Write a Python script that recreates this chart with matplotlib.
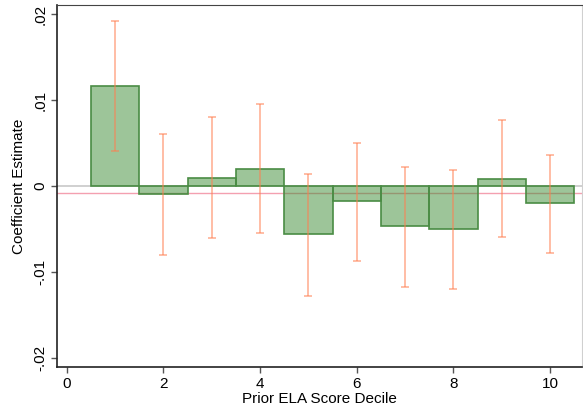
import numpy as np
import matplotlib.pyplot as plt

plt.rcParams['font.family'] = ['Liberation Sans', 'DejaVu Sans']

# coefficient by prior ELA decile, with 95% CI bounds
decile = [1, 2, 3, 4, 5, 6, 7, 8, 9, 10]
coef = [0.0116, -0.0009, 0.0009, 0.0020, -0.0056, -0.0018, -0.0047, -0.0050, 0.0008, -0.0020]
ci_lo = [0.0041, -0.0080, -0.0061, -0.0055, -0.0128, -0.0088, -0.0118, -0.0120, -0.0060, -0.0078]
ci_hi = [0.0192, 0.0061, 0.0081, 0.0096, 0.0014, 0.0050, 0.0022, 0.0019, 0.0077, 0.0036]
ref_line = -0.0008

fig = plt.figure(figsize=(5.83, 4.11), dpi=100)
ax = fig.add_axes([57/583, 44/411, 525/583, 362/411])

ax.axhline(0, color='#c8c8c8', lw=1.2, zorder=1)
ax.axhline(ref_line, color='#f4a0b0', lw=1.0, zorder=1)

ax.bar(decile, coef, width=1.0, color='#3c8c34', alpha=0.5, zorder=2)
ax.bar(decile, coef, width=1.0, fill=False, edgecolor='#4a8c44', lw=1.2, zorder=3)

err = np.array([np.array(coef) - np.array(ci_lo), np.array(ci_hi) - np.array(coef)])
ax.errorbar(decile, coef, yerr=err, fmt='none', ecolor='#ff7f50', alpha=0.6,
            elinewidth=1.2, capsize=3, capthick=1.2, zorder=4)

ax.set_xlim(-0.2, 10.66)
ax.set_ylim(-0.0211, 0.0211)
ax.set_xticks([0, 2, 4, 6, 8, 10])
ax.set_yticks([-0.02, -0.01, 0, 0.01, 0.02])
ax.set_yticklabels(['-.02', '-.01', '0', '.01', '.02'], rotation=90, va='center')
ax.tick_params(labelsize=11, length=4, width=1, color='#555555', pad=3)

ax.spines['left'].set_color('#222222')
ax.spines['bottom'].set_color('#222222')
ax.spines['left'].set_linewidth(1.2)
ax.spines['bottom'].set_linewidth(1.2)
ax.spines['top'].set_color('#444444')
ax.spines['right'].set_color('#d0d0d0')

ax.set_xlabel('Prior ELA Score Decile', fontsize=11, labelpad=1)
ax.set_ylabel('Coefficient Estimate', fontsize=11, labelpad=5)

fig.savefig('out.png', dpi=100)
